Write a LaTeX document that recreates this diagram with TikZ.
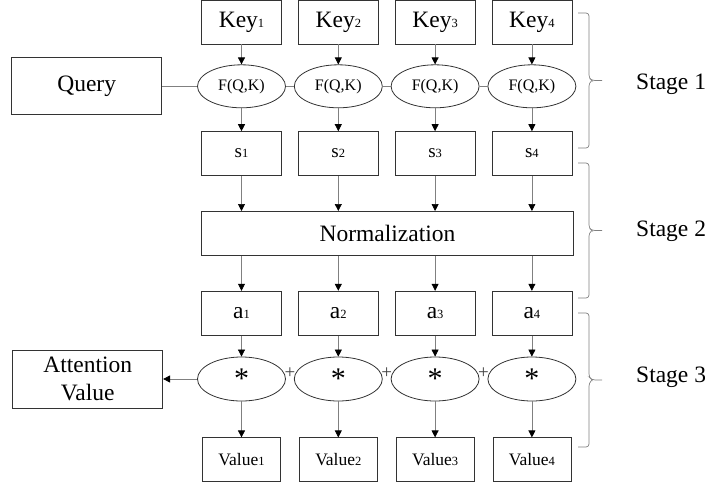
\documentclass[tikz,border=0pt]{standalone}
\usepackage{fontspec}
\setmainfont{Liberation Serif}
\usetikzlibrary{shapes.geometric,arrows.meta,positioning}

\newcommand{\idx}[1]{{\fontsize{12.5}{12.5}\selectfont #1}}

\begin{document}
\begin{tikzpicture}[x=1pt, y=1pt, font=\fontsize{23.5}{28}\selectfont,
    box/.style={draw=black!80, line width=0.8pt, rectangle, minimum width=80pt, minimum height=44pt, inner sep=0pt},
    oval/.style={draw=black!80, line width=0.8pt, ellipse, minimum width=88pt, minimum height=44pt, inner sep=0pt},
    arr/.style={draw=gray, line width=0.7pt, -{Triangle[length=7pt,width=7pt,black]}},
    link/.style={draw=gray, line width=0.7pt},
    brc/.style={draw=gray, line width=0.7pt, rounded corners=3pt}]

    \useasboundingbox (0,0) rectangle (705,-482);

    \node (key1) [box] at (241.5,-22) {Key\idx{1}};
    \node (key2) [box, right=16pt of key1] {Key\idx{2}};
    \node (key3) [box, right=16pt of key2] {Key\idx{3}};
    \node (key4) [box, right=16pt of key3] {Key\idx{4}};

    \node (f1) [oval, minimum height=43pt, below=20pt of key1, font=\fontsize{16}{18}\selectfont] {F(Q,K)};
    \node (f2) [oval, minimum height=43pt, right=8pt of f1, font=\fontsize{16}{18}\selectfont] {F(Q,K)};
    \node (f3) [oval, minimum height=43pt, right=8pt of f2, font=\fontsize{16}{18}\selectfont] {F(Q,K)};
    \node (f4) [oval, minimum height=43pt, right=8pt of f3, font=\fontsize{16}{18}\selectfont] {F(Q,K)};
    \node (query) [box, minimum width=150pt, minimum height=57pt, left=35pt of f1] {Query};

    \node (s1) [box, below=23pt of f1, font=\fontsize{19}{22}\selectfont] {s\idx{1}};
    \node (s2) [box, right=16pt of s1, font=\fontsize{19}{22}\selectfont] {s\idx{2}};
    \node (s3) [box, right=16pt of s2, font=\fontsize{19}{22}\selectfont] {s\idx{3}};
    \node (s4) [box, right=16pt of s3, font=\fontsize{19}{22}\selectfont] {s\idx{4}};

    \node (norm) [box, minimum width=372pt, below right=35pt and 0pt of s1.south west] {Normalization};

    \node (a1) [box, below right=35pt and 0pt of norm.south west] {a\idx{1}};
    \node (a2) [box, right=16pt of a1] {a\idx{2}};
    \node (a3) [box, right=16pt of a2] {a\idx{3}};
    \node (a4) [box, right=16pt of a3] {a\idx{4}};

    \node (m1) [oval, below=21pt of a1, font=\fontsize{30}{30}\selectfont] {\raisebox{-6pt}{*}};
    \node (m2) [oval, right=8pt of m1, font=\fontsize{30}{30}\selectfont] {\raisebox{-6pt}{*}};
    \node (m3) [oval, right=8pt of m2, font=\fontsize{30}{30}\selectfont] {\raisebox{-6pt}{*}};
    \node (m4) [oval, right=8pt of m3, font=\fontsize{30}{30}\selectfont] {\raisebox{-6pt}{*}};
    \node (att) [box, minimum width=150pt, minimum height=58pt, align=center, left=34pt of m1] {Attention\\Value};

    \node (v1) [box, minimum width=78pt, below=36pt of m1, font=\fontsize{17.5}{20}\selectfont] {Value\idx{1}};
    \node (v2) [box, minimum width=78pt, below=36pt of m2, font=\fontsize{17.5}{20}\selectfont] {Value\idx{2}};
    \node (v3) [box, minimum width=78pt, below=36pt of m3, font=\fontsize{17.5}{20}\selectfont] {Value\idx{3}};
    \node (v4) [box, minimum width=78pt, below=36pt of m4, font=\fontsize{17.5}{20}\selectfont] {Value\idx{4}};

    % stage 1
    \draw [arr] (key1) -- (f1);
    \draw [arr] (key2) -- (f2);
    \draw [arr] (key3) -- (f3);
    \draw [arr] (key4) -- (f4);
    \draw [link] (query) -- (f1);
    \draw [link] (f1) -- (f2);
    \draw [link] (f2) -- (f3);
    \draw [link] (f3) -- (f4);
    \draw [arr] (f1) -- (s1);
    \draw [arr] (f2) -- (s2);
    \draw [arr] (f3) -- (s3);
    \draw [arr] (f4) -- (s4);

    % stage 2
    \draw [arr] (s1) -- (s1 |- norm.north);
    \draw [arr] (s2) -- (s2 |- norm.north);
    \draw [arr] (s3) -- (s3 |- norm.north);
    \draw [arr] (s4) -- (s4 |- norm.north);
    \draw [arr] (norm.south -| a1) -- (a1);
    \draw [arr] (norm.south -| a2) -- (a2);
    \draw [arr] (norm.south -| a3) -- (a3);
    \draw [arr] (norm.south -| a4) -- (a4);

    % stage 3
    \draw [arr] (a1) -- (m1);
    \draw [arr] (a2) -- (m2);
    \draw [arr] (a3) -- (m3);
    \draw [arr] (a4) -- (m4);
    \draw [arr] (m1) -- (v1);
    \draw [arr] (m2) -- (v2);
    \draw [arr] (m3) -- (v3);
    \draw [arr] (m4) -- (v4);
    \draw [arr] (m1) -- (att);
    \path (m1) -- node (plus12) [yshift=6pt, inner sep=0pt, text=black!75, font=\fontsize{19}{19}\selectfont] {+} (m2);
    \path (m2) -- node (plus23) [yshift=6pt, inner sep=0pt, text=black!75, font=\fontsize{19}{19}\selectfont] {+} (m3);
    \path (m3) -- node (plus34) [yshift=6pt, inner sep=0pt, text=black!75, font=\fontsize{19}{19}\selectfont] {+} (m4);

    % braces
    \draw [brc] (578,-13) -- (589,-13) -- (589,-78) -- (592,-80.5) -- (602,-80.5);
    \draw [brc] (592,-80.5) -- (589,-83) -- (589,-148) -- (578,-148);
    \draw [brc] (578,-163) -- (589,-163) -- (589,-228) -- (592,-230.5) -- (602,-230.5);
    \draw [brc] (592,-230.5) -- (589,-233) -- (589,-298) -- (578,-298);
    \draw [brc] (578,-313) -- (589,-313) -- (589,-377) -- (592,-380) -- (602,-380);
    \draw [brc] (592,-380) -- (589,-383) -- (589,-447) -- (578,-447);
    \node (stage1) [anchor=west, inner sep=0pt] at (636,-84) {Stage 1};
    \node (stage2) [anchor=west, inner sep=0pt] at (636,-231) {Stage 2};
    \node (stage3) [anchor=west, inner sep=0pt] at (636,-377) {Stage 3};

\end{tikzpicture}
\end{document}
